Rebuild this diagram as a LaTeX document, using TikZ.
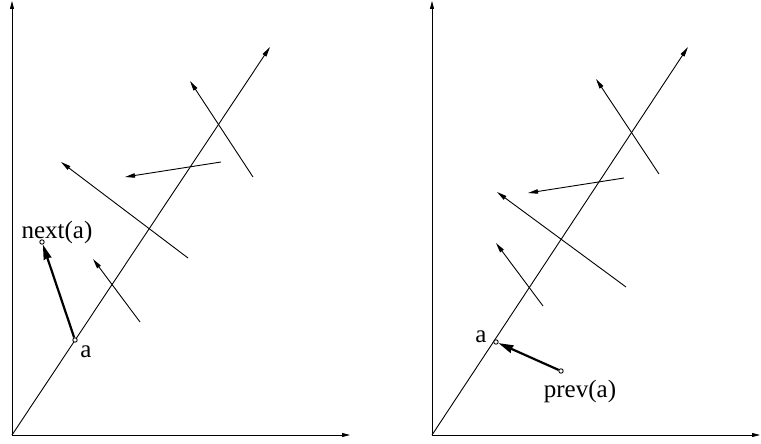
\documentclass[tikz,border=0pt]{standalone}
\usepackage{fontspec}
\setmainfont{Liberation Serif}
\usetikzlibrary{arrows.meta, positioning}

\begin{document}
\begin{tikzpicture}[
        x=0.5pt, y=-0.5pt,
        axis/.style={-{Stealth[length=4pt, width=2pt, inset=0pt]}, line width=0.4pt},
        vec/.style={-{Stealth[length=5pt, width=2.2pt, inset=0pt]}, line width=0.45pt},
        boldvec/.style={-{Stealth[length=7.5pt, width=4pt, inset=0.5pt]}, line width=1.1pt},
        dot/.style={circle, draw, line width=0.45pt, fill=white, inner sep=0pt, minimum size=2.2pt},
        lbl/.style={font=\fontsize{12.5}{14}\selectfont, inner sep=0pt}
    ]
        \useasboundingbox (0,0) rectangle (761,444);
        % left panel
        \coordinate (lo) at (12,435);
        \coordinate (ly) at (12,1);
        \coordinate (lx) at (350,435);
        \coordinate (ld) at (270,47);
        \draw[axis] (lo) -- (ly);
        \draw[axis] (lo) -- (lx);
        \draw[vec] (lo) -- (ld);
        \draw[vec] (253,177) -- (190,81);
        \draw[vec] (221,162) -- (125,177);
        \draw[vec] (188,258) -- (61,162);
        \draw[vec] (140,322) -- (93,259);
        \node[dot] (la) at (75,340) {};
        \node[dot] (next) at (42,242) {};
        \draw[boldvec] (la) -- (next);
        \node[lbl] (lalbl) at (86,352) {a};
        \node[lbl] (nextlbl) at (57,232) {next(a)};
        % right panel
        \coordinate (ro) at (432,435);
        \coordinate (ry) at (432,1);
        \coordinate (rx) at (760,435);
        \coordinate (rd) at (688,47);
        \draw[axis] (ro) -- (ry);
        \draw[axis] (ro) -- (rx);
        \draw[vec] (ro) -- (rd);
        \draw[vec] (659,174) -- (596,79);
        \draw[vec] (624,178) -- (528,193);
        \draw[vec] (626,287) -- (497,192);
        \draw[vec] (543,306) -- (496,243);
        \node[dot] (ra) at (496,342) {};
        \node[dot] (prev) at (561,371) {};
        \draw[boldvec] (prev) -- (ra);
        \node[lbl] (ralbl) at (481,337) {a};
        \node[lbl] (prevlbl) at (580,391) {prev(a)};
    \end{tikzpicture}
\end{document}
